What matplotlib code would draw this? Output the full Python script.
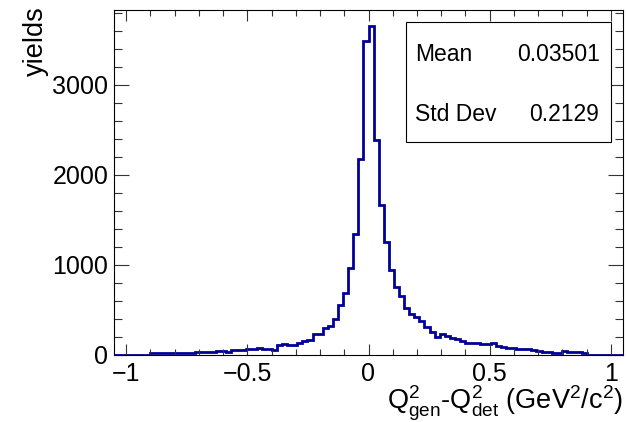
import matplotlib
matplotlib.use("Agg")
import matplotlib.pyplot as plt
import numpy as np
from matplotlib.patches import Rectangle
from matplotlib.ticker import MultipleLocator

plt.rcParams["font.family"] = ["Liberation Sans", "DejaVu Sans"]
plt.rcParams["mathtext.fontset"] = "custom"
plt.rcParams["mathtext.rm"] = "Liberation Sans"

# histogram: 100 bins between -1.05 and 1.05
x_min, x_max, n_bins = -1.05, 1.05, 100
counts = [
    0, 0, 0, 0, 0, 0, 0,
    22, 21, 22, 22, 23, 22, 23, 22, 24,
    33, 34, 33, 35,
    44, 45,
    35,
    55, 54, 56,
    68, 62, 76, 70, 70, 55, 107, 122, 115, 107,
    134, 150, 172, 233, 236, 296, 322, 395, 555, 688,
    962, 1340, 2172, 3480, 3647, 2388, 1666, 1258, 944, 752,
    650, 518, 455, 425, 372, 314, 258, 205, 233, 212,
    185, 174, 158, 129, 128, 136, 118, 117, 128, 98,
    90, 80, 78, 64, 64, 62, 60, 45, 36, 34,
    24, 18, 42, 38, 35, 28, 18,
    0, 0, 0, 0, 0, 0, 0,
]
stat_names = ["Mean", "Std Dev"]
stat_values = ["0.03501", "0.2129"]

edges = np.linspace(x_min, x_max, n_bins + 1)

fig = plt.figure(figsize=(6.27, 4.22), dpi=100)
ax = fig.add_axes([114 / 627, 67 / 422, 509 / 627, 345 / 422])

ax.stairs(counts, edges, color="#000099", linewidth=2.0, baseline=0)

ax.set_xlim(x_min, x_max)
ax.set_ylim(0, 1.05 * max(counts))

ax.xaxis.set_major_locator(MultipleLocator(0.5))
ax.xaxis.set_minor_locator(MultipleLocator(0.1))
ax.yaxis.set_major_locator(MultipleLocator(1000))
ax.yaxis.set_minor_locator(MultipleLocator(200))
ax.xaxis.set_major_formatter(matplotlib.ticker.FuncFormatter(
    lambda v, p: ("%g" % v).replace("-", "\u2212")))

ax.tick_params(axis="both", which="both", direction="in", top=True, right=True,
               width=0.8, color="#333333", labelsize=18)
ax.tick_params(axis="x", which="major", length=8, pad=5)
ax.tick_params(axis="x", which="minor", length=4)
ax.tick_params(axis="y", which="major", length=11, pad=4)
ax.tick_params(axis="y", which="minor", length=5.5)
for sp in ax.spines.values():
    sp.set_linewidth(0.8)

ax.set_xlabel(r"$\mathregular{Q^2_{gen}}$-$\mathregular{Q^2_{det}}$ (GeV$^\mathregular{2}$/c$^\mathregular{2}$)",
              fontsize=19.5, loc="right")
ax.xaxis.set_label_coords(1.0, -0.085)
ax.set_ylabel("yields", fontsize=19.5, loc="top")
ax.yaxis.set_label_coords(-0.128, 1.01)

# statistics box
box = Rectangle((406 / 627, (422 - 142) / 422), 205 / 627, 120 / 422,
                transform=fig.transFigure, facecolor="white",
                edgecolor="black", linewidth=0.8)
fig.add_artist(box)
for i, (name, val) in enumerate(zip(stat_names, stat_values)):
    y = (422 - 61 - 60 * i) / 422
    fig.text(415 / 627, y, name, fontsize=16.5, va="baseline", ha="left")
    fig.text(599.5 / 627, y, val, fontsize=16.5, va="baseline", ha="right")

fig.savefig("out.png", dpi=100)
